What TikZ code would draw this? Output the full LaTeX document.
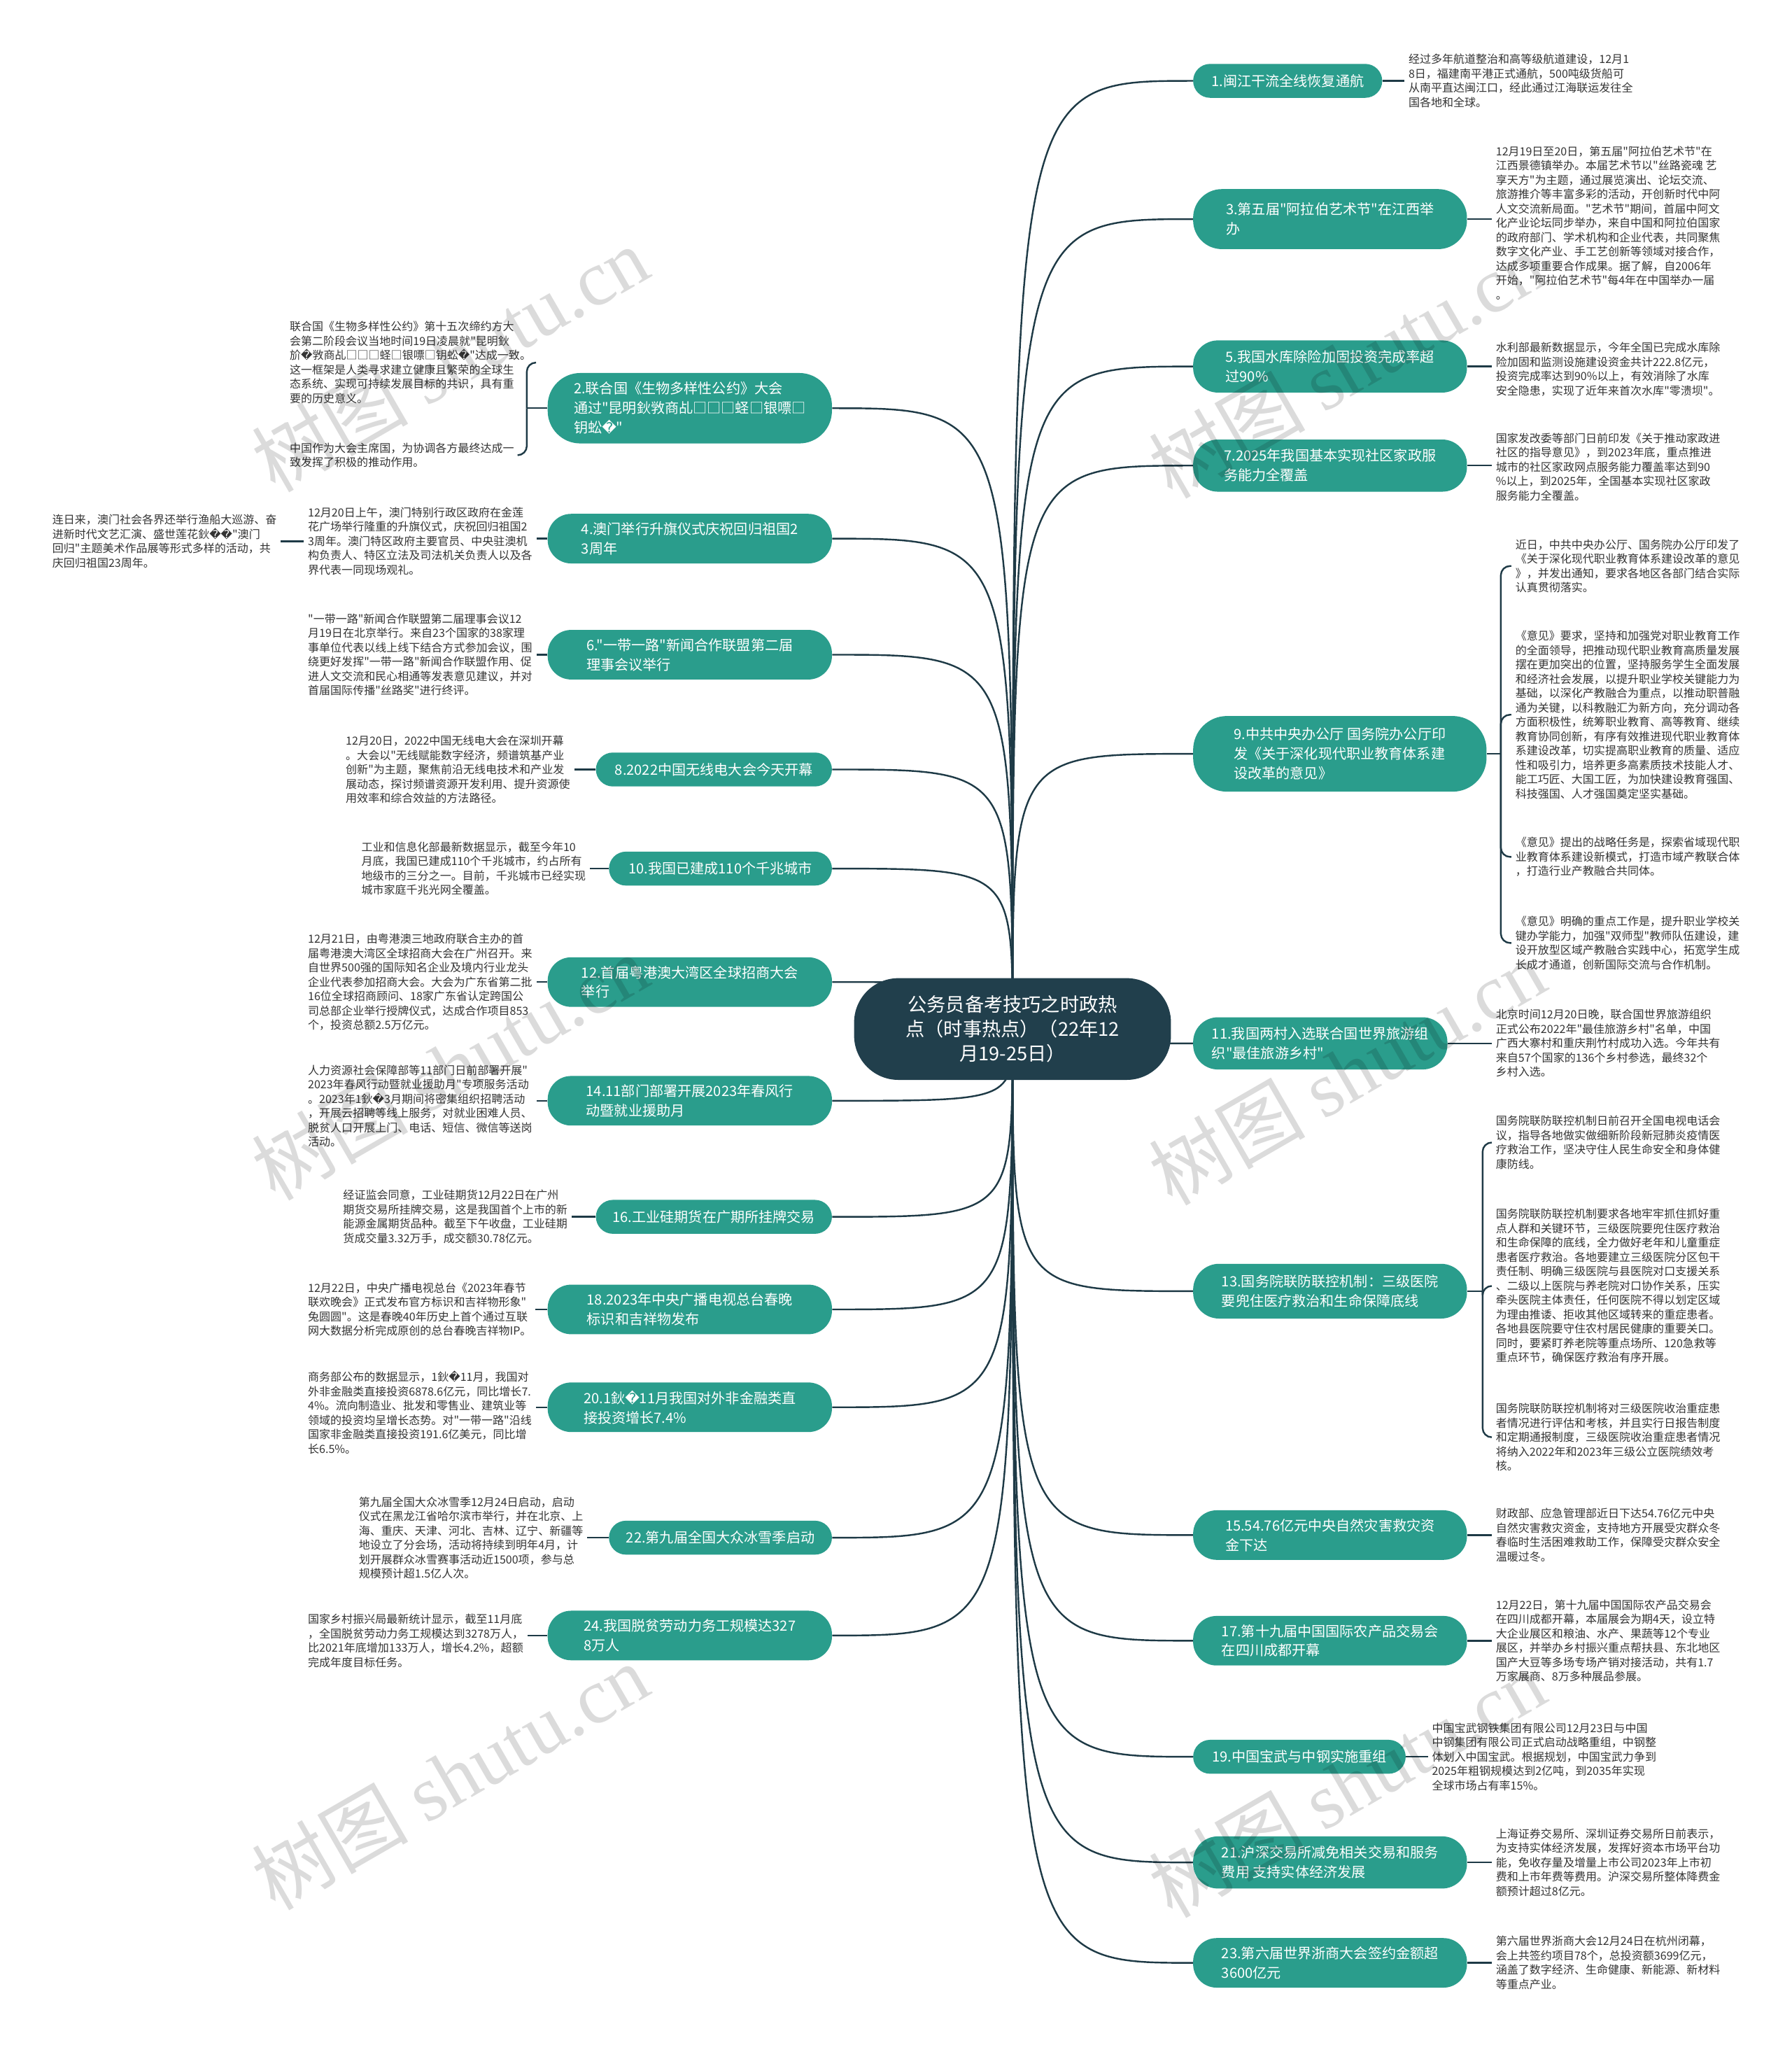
\documentclass[tikz,border=0pt]{standalone}
\usepackage{fontspec}
\setmainfont{Noto Sans CJK SC}[Ligatures=TeXOff]
\newfontfamily\djv{DejaVu Sans}
\newfontfamily\wmserif{Liberation Serif}
\usetikzlibrary{backgrounds}
\definecolor{teal1}{HTML}{2A9D8C}
\definecolor{dark1}{HTML}{213F4C}
\definecolor{line1}{HTML}{1E3A46}
\definecolor{txt1}{HTML}{333333}
\newcommand\rp{{\djv\char"FFFD}}
\begin{document}
\begin{tikzpicture}[x=1pt,y=-1pt,
  branch/.style={fill=teal1, text=white, font=\fontsize{10.8}{15}\selectfont, align=left, inner sep=0pt},
  hub/.style={fill=dark1, text=white, font=\fontsize{14.6}{19}\selectfont, align=center, inner sep=0pt, rounded corners=34pt},
  para/.style={text=txt1, font=\fontsize{8.6}{11}\selectfont, align=left, inner xsep=3pt, inner ysep=0pt},
  conn/.style={draw=line1, line width=1.3pt},
  wm/.style={font=\fontsize{60}{60}\selectfont, text=black, text opacity=0.14, rotate=30}
]
\useasboundingbox (0,0) rectangle (1374,1568);

% hub
\node[hub, minimum width=243pt, minimum height=78pt] (hub) at (776.5,789) {公务员备考技巧之时政热\\点（时事热点）（22年12\\月19-25日）};
\coordinate (c) at (hub.center);

% right branches
\node[branch, minimum width=145pt, minimum height=26pt, rounded corners=13pt] (n1) at (987.5,62) {1.闽江干流全线恢复通航};
\node[branch, minimum width=210pt, minimum height=46pt, rounded corners=22pt] (n3) at (1020,168) {3.第五届"阿拉伯艺术节"在江西举\\办};
\node[branch, minimum width=210pt, minimum height=40pt, rounded corners=19pt] (n5) at (1020,281) {5.我国水库除险加固投资完成率超\\过90\%};
\node[branch, minimum width=210pt, minimum height=40pt, rounded corners=19pt] (n7) at (1020,357) {7.2025年我国基本实现社区家政服\\务能力全覆盖};
\node[branch, minimum width=225pt, minimum height=58pt, rounded corners=26pt] (n9) at (1027.5,578) {9.中共中央办公厅 国务院办公厅印\\发《关于深化现代职业教育体系建\\设改革的意见》};
\node[branch, minimum width=195pt, minimum height=40pt, rounded corners=19pt] (n11) at (1012.5,800) {11.我国两村入选联合国世界旅游组\\织"最佳旅游乡村"};
\node[branch, minimum width=210pt, minimum height=42pt, rounded corners=20pt] (n13) at (1020,990) {13.国务院联防联控机制：三级医院\\要兜住医疗救治和生命保障底线};
\node[branch, minimum width=210pt, minimum height=38pt, rounded corners=18pt] (n15) at (1020,1177) {15.54.76亿元中央自然灾害救灾资\\金下达};
\node[branch, minimum width=210pt, minimum height=38pt, rounded corners=18pt] (n17) at (1020,1258) {17.第十九届中国国际农产品交易会\\在四川成都开幕};
\node[branch, minimum width=163pt, minimum height=26pt, rounded corners=13pt] (n19) at (996.5,1347) {19.中国宝武与中钢实施重组};
\node[branch, minimum width=210pt, minimum height=40pt, rounded corners=19pt] (n21) at (1020,1428) {21.沪深交易所减免相关交易和服务\\费用 支持实体经济发展};
\node[branch, minimum width=210pt, minimum height=38pt, rounded corners=18pt] (n23) at (1020,1505) {23.第六届世界浙商大会签约金额超\\3600亿元};

% left branches
\node[branch, minimum width=218pt, minimum height=54pt, rounded corners=25pt] (n2) at (529,313) {2.联合国《生物多样性公约》大会\\通过"昆明鈥敩商乩□□□蛏□银嘌□\\钥蚣\rp{}"};
\node[branch, minimum width=218pt, minimum height=38pt, rounded corners=18pt] (n4) at (529,413) {4.澳门举行升旗仪式庆祝回归祖国2\\3周年};
\node[branch, minimum width=218pt, minimum height=38pt, rounded corners=18pt] (n6) at (529,502) {6."一带一路"新闻合作联盟第二届\\理事会议举行};
\node[branch, minimum width=181pt, minimum height=26pt, rounded corners=13pt] (n8) at (547.5,590) {8.2022中国无线电大会今天开幕};
\node[branch, minimum width=171pt, minimum height=26pt, rounded corners=13pt] (n10) at (552.5,666) {10.我国已建成110个千兆城市};
\node[branch, minimum width=218pt, minimum height=38pt, rounded corners=18pt] (n12) at (529,753) {12.首届粤港澳大湾区全球招商大会\\举行};
\node[branch, minimum width=218pt, minimum height=38pt, rounded corners=18pt] (n14) at (529,844) {14.11部门部署开展2023年春风行\\动暨就业援助月};
\node[branch, minimum width=181pt, minimum height=26pt, rounded corners=13pt] (n16) at (547.5,933) {16.工业硅期货在广期所挂牌交易};
\node[branch, minimum width=218pt, minimum height=38pt, rounded corners=18pt] (n18) at (529,1004) {18.2023年中央广播电视总台春晚\\标识和吉祥物发布};
\node[branch, minimum width=218pt, minimum height=38pt, rounded corners=18pt] (n20) at (529,1079) {20.1鈥\rp{}11月我国对外非金融类直\\接投资增长7.4\%};
\node[branch, minimum width=171pt, minimum height=26pt, rounded corners=13pt] (n22) at (552.5,1179) {22.第九届全国大众冰雪季启动};
\node[branch, minimum width=218pt, minimum height=38pt, rounded corners=18pt] (n24) at (529,1254) {24.我国脱贫劳动力务工规模达327\\8万人};

% right paragraphs
\node[para, anchor=west] (t1) at (1077,62) {经过多年航道整治和高等级航道建设，12月1\\8日，福建南平港正式通航，500吨级货船可\\从南平直达闽江口，经此通过江海联运发往全\\国各地和全球。};
\node[para, anchor=west] (t3) at (1144,171) {12月19日至20日，第五届"阿拉伯艺术节"在\\江西景德镇举办。本届艺术节以"丝路瓷魂 艺\\享天方"为主题，通过展览演出、论坛交流、\\旅游推介等丰富多彩的活动，开创新时代中阿\\人文交流新局面。"艺术节"期间，首届中阿文\\化产业论坛同步举办，来自中国和阿拉伯国家\\的政府部门、学术机构和企业代表，共同聚焦\\数字文化产业、手工艺创新等领域对接合作，\\达成多项重要合作成果。据了解，自2006年\\开始，"阿拉伯艺术节"每4年在中国举办一届\\。};
\node[para, anchor=west] (t5) at (1144,283) {水利部最新数据显示，今年全国已完成水库除\\险加固和监测设施建设资金共计222.8亿元，\\投资完成率达到90\%以上，有效消除了水库\\安全隐患，实现了近年来首次水库"零溃坝"。};
\node[para, anchor=west] (t7) at (1144,358) {国家发改委等部门日前印发《关于推动家政进\\社区的指导意见》，到2023年底，重点推进\\城市的社区家政网点服务能力覆盖率达到90\\\%以上，到2025年，全国基本实现社区家政\\服务能力全覆盖。};
\node[para, anchor=west] (t9a) at (1159,434) {近日，中共中央办公厅、国务院办公厅印发了\\《关于深化现代职业教育体系建设改革的意见\\》，并发出通知，要求各地区各部门结合实际\\认真贯彻落实。};
\node[para, anchor=west] (t9b) at (1159,548) {《意见》要求，坚持和加强党对职业教育工作\\的全面领导，把推动现代职业教育高质量发展\\摆在更加突出的位置，坚持服务学生全面发展\\和经济社会发展，以提升职业学校关键能力为\\基础，以深化产教融合为重点，以推动职普融\\通为关键，以科教融汇为新方向，充分调动各\\方面积极性，统筹职业教育、高等教育、继续\\教育协同创新，有序有效推进现代职业教育体\\系建设改革，切实提高职业教育的质量、适应\\性和吸引力，培养更多高素质技术技能人才、\\能工巧匠、大国工匠，为加快建设教育强国、\\科技强国、人才强国奠定坚实基础。};
\node[para, anchor=west] (t9c) at (1159,657) {《意见》提出的战略任务是，探索省域现代职\\业教育体系建设新模式，打造市域产教联合体\\，打造行业产教融合共同体。};
\node[para, anchor=west] (t9d) at (1159,723) {《意见》明确的重点工作是，提升职业学校关\\键办学能力，加强"双师型"教师队伍建设，建\\设开放型区域产教融合实践中心，拓宽学生成\\长成才通道，创新国际交流与合作机制。};
\node[para, anchor=west] (t11) at (1144,800) {北京时间12月20日晚，联合国世界旅游组织\\正式公布2022年"最佳旅游乡村"名单，中国\\广西大寨村和重庆荆竹村成功入选。今年共有\\来自57个国家的136个乡村参选，最终32个\\乡村入选。};
\node[para, anchor=west] (t13a) at (1144,876) {国务院联防联控机制日前召开全国电视电话会\\议，指导各地做实做细新阶段新冠肺炎疫情医\\疗救治工作，坚决守住人民生命安全和身体健\\康防线。};
\node[para, anchor=west] (t13b) at (1144,986) {国务院联防联控机制要求各地牢牢抓住抓好重\\点人群和关键环节，三级医院要兜住医疗救治\\和生命保障的底线，全力做好老年和儿童重症\\患者医疗救治。各地要建立三级医院分区包干\\责任制、明确三级医院与县医院对口支援关系\\、二级以上医院与养老院对口协作关系，压实\\牵头医院主体责任，任何医院不得以划定区域\\为理由推诿、拒收其他区域转来的重症患者。\\各地县医院要守住农村居民健康的重要关口。\\同时，要紧盯养老院等重点场所、120急救等\\重点环节，确保医疗救治有序开展。};
\node[para, anchor=west] (t13c) at (1144,1102) {国务院联防联控机制将对三级医院收治重症患\\者情况进行评估和考核，并且实行日报告制度\\和定期通报制度，三级医院收治重症患者情况\\将纳入2022年和2023年三级公立医院绩效考\\核。};
\node[para, anchor=west] (t15) at (1144,1177) {财政部、应急管理部近日下达54.76亿元中央\\自然灾害救灾资金，支持地方开展受灾群众冬\\春临时生活困难救助工作，保障受灾群众安全\\温暖过冬。};
\node[para, anchor=west] (t17) at (1144,1258) {12月22日，第十九届中国国际农产品交易会\\在四川成都开幕，本届展会为期4天，设立特\\大企业展区和粮油、水产、果蔬等12个专业\\展区，并举办乡村振兴重点帮扶县、东北地区\\国产大豆等多场专场产销对接活动，共有1.7\\万家展商、8万多种展品参展。};
\node[para, anchor=west] (t19) at (1095,1347) {中国宝武钢铁集团有限公司12月23日与中国\\中钢集团有限公司正式启动战略重组，中钢整\\体划入中国宝武。根据规划，中国宝武力争到\\2025年粗钢规模达到2亿吨，到2035年实现\\全球市场占有率15\%。};
\node[para, anchor=west] (t21) at (1144,1428) {上海证券交易所、深圳证券交易所日前表示，\\为支持实体经济发展，发挥好资本市场平台功\\能，免收存量及增量上市公司2023年上市初\\费和上市年费等费用。沪深交易所整体降费金\\额预计超过8亿元。};
\node[para, anchor=west] (t23) at (1144,1505) {第六届世界浙商大会12月24日在杭州闭幕，\\会上共签约项目78个，总投资额3699亿元，\\涵盖了数字经济、生命健康、新能源、新材料\\等重点产业。};

% left paragraphs
\node[para, anchor=west] (t2a) at (219,278) {联合国《生物多样性公约》第十五次缔约方大\\会第二阶段会议当地时间19日凌晨就"昆明鈥\\斺\rp{}敩商乩□□□蛏□银嘌□钥蚣\rp{}"达成一致。\\这一框架是人类寻求建立健康且繁荣的全球生\\态系统、实现可持续发展目标的共识，具有重\\要的历史意义。};
\node[para, anchor=west] (t2b) at (219,349) {中国作为大会主席国，为协调各方最终达成一\\致发挥了积极的推动作用。};
\node[para, anchor=west] (t4) at (233,415) {12月20日上午，澳门特别行政区政府在金莲\\花广场举行隆重的升旗仪式，庆祝回归祖国2\\3周年。澳门特区政府主要官员、中央驻澳机\\构负责人、特区立法及司法机关负责人以及各\\界代表一同现场观礼。};
\node[para, anchor=west] (t4b) at (37,415) {连日来，澳门社会各界还举行渔船大巡游、奋\\进新时代文艺汇演、盛世莲花鈥\rp{}\rp{}"澳门\\回归"主题美术作品展等形式多样的活动，共\\庆回归祖国23周年。};
\node[para, anchor=west] (t6) at (233,502) {"一带一路"新闻合作联盟第二届理事会议12\\月19日在北京举行。来自23个国家的38家理\\事单位代表以线上线下结合方式参加会议，围\\绕更好发挥"一带一路"新闻合作联盟作用、促\\进人文交流和民心相通等发表意见建议，并对\\首届国际传播"丝路奖"进行终评。};
\node[para, anchor=west] (t8) at (262,590) {12月20日，2022中国无线电大会在深圳开幕\\。大会以"无线赋能数字经济，频谱筑基产业\\创新"为主题，聚焦前沿无线电技术和产业发\\展动态，探讨频谱资源开发利用、提升资源使\\用效率和综合效益的方法路径。};
\node[para, anchor=west] (t10) at (274,666) {工业和信息化部最新数据显示，截至今年10\\月底，我国已建成110个千兆城市，约占所有\\地级市的三分之一。目前，千兆城市已经实现\\城市家庭千兆光网全覆盖。};
\node[para, anchor=west] (t12) at (233,753) {12月21日，由粤港澳三地政府联合主办的首\\届粤港澳大湾区全球招商大会在广州召开。来\\自世界500强的国际知名企业及境内行业龙头\\企业代表参加招商大会。大会为广东省第二批\\16位全球招商顾问、18家广东省认定跨国公\\司总部企业举行授牌仪式，达成合作项目853\\个，投资总额2.5万亿元。};
\node[para, anchor=west] (t14) at (233,848) {人力资源社会保障部等11部门日前部署开展"\\2023年春风行动暨就业援助月"专项服务活动\\。2023年1鈥\rp{}3月期间将密集组织招聘活动\\，开展云招聘等线上服务，对就业困难人员、\\脱贫人口开展上门、电话、短信、微信等送岗\\活动。};
\node[para, anchor=west] (t16) at (260,933) {经证监会同意，工业硅期货12月22日在广州\\期货交易所挂牌交易，这是我国首个上市的新\\能源金属期货品种。截至下午收盘，工业硅期\\货成交量3.32万手，成交额30.78亿元。};
\node[para, anchor=west] (t18) at (233,1004) {12月22日，中央广播电视总台《2023年春节\\联欢晚会》正式发布官方标识和吉祥物形象"\\兔圆圆"。这是春晚40年历史上首个通过互联\\网大数据分析完成原创的总台春晚吉祥物IP。};
\node[para, anchor=west] (t20) at (233,1083) {商务部公布的数据显示，1鈥\rp{}11月，我国对\\外非金融类直接投资6878.6亿元，同比增长7.\\4\%。流向制造业、批发和零售业、建筑业等\\领域的投资均呈增长态势。对"一带一路"沿线\\国家非金融类直接投资191.6亿美元，同比增\\长6.5\%。};
\node[para, anchor=west] (t22) at (272,1179) {第九届全国大众冰雪季12月24日启动，启动\\仪式在黑龙江省哈尔滨市举行，并在北京、上\\海、重庆、天津、河北、吉林、辽宁、新疆等\\地设立了分会场，活动将持续到明年4月，计\\划开展群众冰雪赛事活动近1500项，参与总\\规模预计超1.5亿人次。};
\node[para, anchor=west] (t24) at (233,1258) {国家乡村振兴局最新统计显示，截至11月底\\，全国脱贫劳动力务工规模达到3278万人，\\比2021年底增加133万人，增长4.2\%，超额\\完成年度目标任务。};

% junctions for multi-paragraph groups
\coordinate (j9) at (1151,578);
\coordinate (j13) at (1137,990);
\coordinate (j2) at (404,313);

\begin{scope}[on background layer]
  \foreach \n in {n1,n3,n5,n7,n9,n11,n13,n15,n17,n19,n21,n23}
    \draw[conn] (c) .. controls (c |- \n.west) .. (\n.west);
  \foreach \n in {n2,n4,n6,n8,n10,n12,n14,n16,n18,n20,n22,n24}
    \draw[conn] (c) .. controls (c |- \n.east) .. (\n.east);
\end{scope}

% node-to-text connectors (right)
\foreach \n/\t in {n1/t1,n3/t3,n5/t5,n7/t7,n11/t11,n15/t15,n17/t17,n19/t19,n21/t21,n23/t23}
  \draw[conn] (\n.east) -- (\n.east -| \t.west);
% node-to-text connectors (left)
\foreach \n/\t in {n4/t4,n6/t6,n8/t8,n10/t10,n12/t12,n14/t14,n16/t16,n18/t18,n20/t20,n22/t22,n24/t24}
  \draw[conn] (\n.west) -- (\n.west -| \t.east);
\draw[conn] (t4.west) -- (t4.west -| t4b.east);

% grouped paragraphs
\draw[conn] (n9.east) -- (j9);
\foreach \t in {t9a,t9b,t9c,t9d}
  \draw[conn, rounded corners=7pt] (j9) |- (\t.west);
\draw[conn] (n13.east) -- (j13);
\foreach \t in {t13a,t13b,t13c}
  \draw[conn, rounded corners=7pt] (j13) |- (\t.west);
\draw[conn] (n2.west) -- (j2);
\foreach \t in {t2a,t2b}
  \draw[conn, rounded corners=7pt] (j2) |- (\t.east);

% watermarks
\foreach \p in {(345,275),(1033,280),(345,818),(1033,822),(345,1362),(1033,1368)}
  \node[wm] at \p {树图 {\wmserif shutu.cn}};
\end{tikzpicture}
\end{document}
